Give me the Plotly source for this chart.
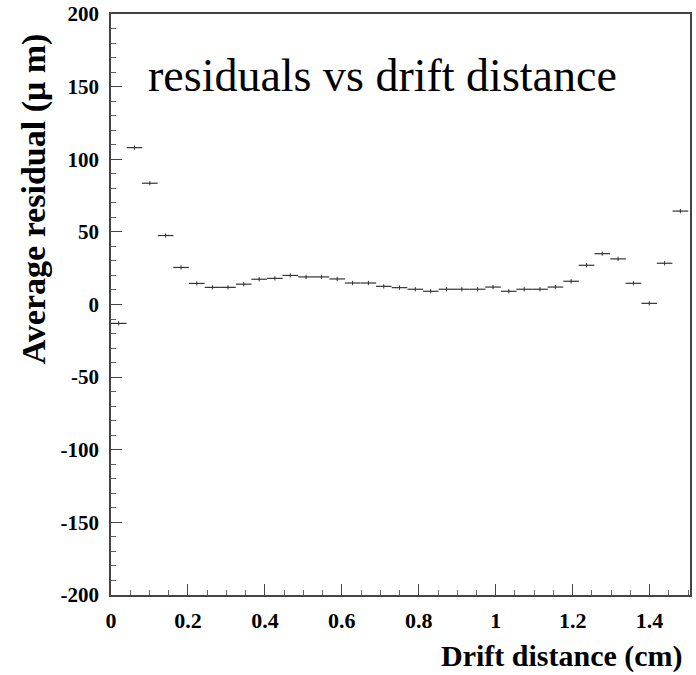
import plotly.graph_objects as go

# Bin centres (cm), 37 bins over 0..1.5 cm
bin_width = 1.5 / 37
x_centers = [0.020, 0.061, 0.101, 0.142, 0.182, 0.223, 0.264, 0.304, 0.345,
             0.385, 0.426, 0.466, 0.507, 0.547, 0.588, 0.628, 0.669, 0.709,
             0.750, 0.791, 0.831, 0.872, 0.912, 0.953, 0.993, 1.034, 1.074,
             1.115, 1.155, 1.196, 1.236, 1.277, 1.318, 1.358, 1.399, 1.439, 1.480]
# Average residual (um)
residuals = [-13, 108, 83.5, 47.5, 25.5, 14.5, 11.8, 11.8, 14, 17.4, 18, 20,
             19, 19, 17.6, 14.8, 14.8, 12.5, 11.6, 10.5, 9.1, 10.5, 10.5, 10.5,
             12, 9.1, 10.5, 10.5, 12, 16, 27, 35, 31.4, 14.6, 0.8, 28.4, 64.3]
y_errors = [1.5] * len(residuals)

x_ticks = [0, 0.2, 0.4, 0.6, 0.8, 1.0, 1.2, 1.4]
x_ticklabels = ["0", "0.2", "0.4", "0.6", "0.8", "1", "1.2", "1.4"]
y_ticks = [-200, -150, -100, -50, 0, 50, 100, 150, 200]
y_ticklabels = ["-200", "-150", "-100", "-50", "0", "50", "100", "150", "200"]

fig = go.Figure()
fig.add_trace(go.Scatter(
    x=x_centers, y=residuals, mode="markers",
    marker=dict(size=1, color="#333333"),
    error_x=dict(type="constant", value=bin_width / 2, width=0,
                 thickness=1.2, color="#333333"),
    error_y=dict(type="data", array=y_errors, width=0,
                 thickness=1, color="#333333"),
    showlegend=False,
))

serif = "Liberation Serif, Times New Roman, serif"
fig.update_xaxes(
    range=[0, 1.505], tickvals=x_ticks, ticktext=x_ticklabels,
    ticks="inside", ticklen=11, tickwidth=1, tickcolor="#444",
    minor=dict(dtick=0.05, tick0=0, ticks="inside", ticklen=5, tickcolor="#666"),
    showline=True, linecolor="#444", linewidth=1.5, mirror=True,
    showgrid=False, zeroline=False, ticklabelstandoff=5, automargin=False,
    tickfont=dict(family=serif, size=22, color="black", weight="bold"),
)
fig.update_yaxes(
    range=[-200, 200], tickvals=y_ticks, ticktext=y_ticklabels,
    ticks="inside", ticklen=11, tickwidth=1, tickcolor="#444",
    minor=dict(dtick=10, tick0=0, ticks="inside", ticklen=5, tickcolor="#666"),
    showline=True, linecolor="#444", linewidth=1.5, mirror=True,
    showgrid=False, zeroline=False, ticklabelstandoff=6, automargin=False,
    tickfont=dict(family=serif, size=21, color="black", weight="bold"),
)

fig.add_annotation(
    text="<b>Average residual (μ m)</b>", xref="paper", yref="paper",
    x=-0.133, y=0.683, xanchor="center", yanchor="middle", textangle=-90,
    showarrow=False, font=dict(family=serif, size=34, color="black"),
)
fig.add_annotation(
    text="<b>Drift distance (cm)</b>", xref="paper", yref="paper",
    x=0.992, y=-0.105, xanchor="right", yanchor="middle",
    showarrow=False, font=dict(family=serif, size=30, color="black"),
)
fig.add_annotation(
    text="residuals vs drift distance", xref="paper", yref="paper",
    x=0.060, y=0.895, xanchor="left", yanchor="middle",
    showarrow=False, font=dict(family=serif, size=46, color="black"),
)

fig.update_layout(
    width=696, height=675,
    margin=dict(l=111, r=6, t=14, b=80),
    paper_bgcolor="white", plot_bgcolor="white",
)
fig.write_html("out.html")
